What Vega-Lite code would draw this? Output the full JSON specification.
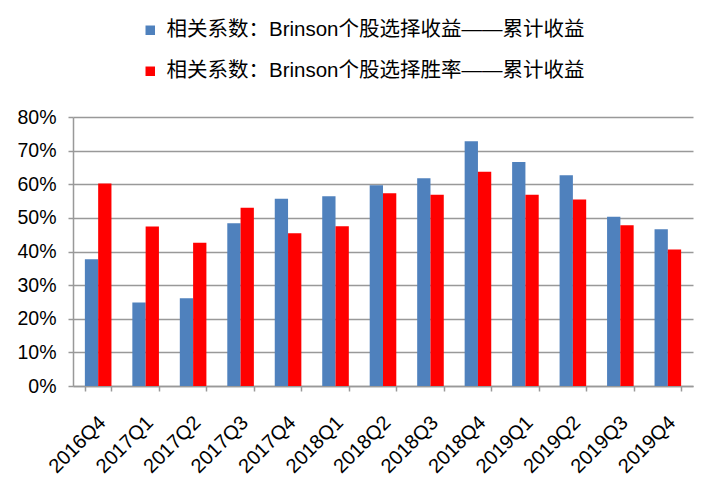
{
  "$schema": "https://vega.github.io/schema/vega-lite/v6.json",
  "width": 620,
  "height": 269,
  "autosize": {"type": "none"},
  "padding": {"left": 73, "top": 117, "right": 15, "bottom": 91},
  "background": "white",
  "data": {
    "values": [
      {"q": "2016Q4", "s": "相关系数：Brinson个股选择收益——累计收益", "v": 0.377},
      {"q": "2016Q4", "s": "相关系数：Brinson个股选择胜率——累计收益", "v": 0.602},
      {"q": "2017Q1", "s": "相关系数：Brinson个股选择收益——累计收益", "v": 0.248},
      {"q": "2017Q1", "s": "相关系数：Brinson个股选择胜率——累计收益", "v": 0.474},
      {"q": "2017Q2", "s": "相关系数：Brinson个股选择收益——累计收益", "v": 0.261},
      {"q": "2017Q2", "s": "相关系数：Brinson个股选择胜率——累计收益", "v": 0.426},
      {"q": "2017Q3", "s": "相关系数：Brinson个股选择收益——累计收益", "v": 0.484},
      {"q": "2017Q3", "s": "相关系数：Brinson个股选择胜率——累计收益", "v": 0.530},
      {"q": "2017Q4", "s": "相关系数：Brinson个股选择收益——累计收益", "v": 0.557},
      {"q": "2017Q4", "s": "相关系数：Brinson个股选择胜率——累计收益", "v": 0.454},
      {"q": "2018Q1", "s": "相关系数：Brinson个股选择收益——累计收益", "v": 0.564},
      {"q": "2018Q1", "s": "相关系数：Brinson个股选择胜率——累计收益", "v": 0.475},
      {"q": "2018Q2", "s": "相关系数：Brinson个股选择收益——累计收益", "v": 0.597},
      {"q": "2018Q2", "s": "相关系数：Brinson个股选择胜率——累计收益", "v": 0.573},
      {"q": "2018Q3", "s": "相关系数：Brinson个股选择收益——累计收益", "v": 0.618},
      {"q": "2018Q3", "s": "相关系数：Brinson个股选择胜率——累计收益", "v": 0.569},
      {"q": "2018Q4", "s": "相关系数：Brinson个股选择收益——累计收益", "v": 0.728},
      {"q": "2018Q4", "s": "相关系数：Brinson个股选择胜率——累计收益", "v": 0.637},
      {"q": "2019Q1", "s": "相关系数：Brinson个股选择收益——累计收益", "v": 0.666},
      {"q": "2019Q1", "s": "相关系数：Brinson个股选择胜率——累计收益", "v": 0.569},
      {"q": "2019Q2", "s": "相关系数：Brinson个股选择收益——累计收益", "v": 0.627},
      {"q": "2019Q2", "s": "相关系数：Brinson个股选择胜率——累计收益", "v": 0.555},
      {"q": "2019Q3", "s": "相关系数：Brinson个股选择收益——累计收益", "v": 0.503},
      {"q": "2019Q3", "s": "相关系数：Brinson个股选择胜率——累计收益", "v": 0.478},
      {"q": "2019Q4", "s": "相关系数：Brinson个股选择收益——累计收益", "v": 0.466},
      {"q": "2019Q4", "s": "相关系数：Brinson个股选择胜率——累计收益", "v": 0.406}
    ]
  },
  "mark": {"type": "bar"},
  "encoding": {
    "x": {
      "field": "q",
      "type": "nominal",
      "sort": null,
      "title": null,
      "scale": {"paddingInner": 0.44, "paddingOuter": 0.25},
      "axis": {
        "labelAngle": -45,
        "labelAlign": "right",
        "labelBaseline": "top",
        "labelFont": "Liberation Sans",
        "labelFontSize": 20,
        "labelColor": "#000000",
        "labelPadding": 21,
        "labelOffset": -3,
        "tickBand": "extent",
        "tickColor": "#999999",
        "tickSize": 5,
        "tickWidth": 1.5,
        "domainColor": "#999999",
        "domainWidth": 1.5,
        "grid": false
      }
    },
    "xOffset": {"field": "s", "type": "nominal", "sort": null},
    "y": {
      "field": "v",
      "type": "quantitative",
      "title": null,
      "scale": {"domain": [0, 0.8], "nice": false},
      "axis": {
        "values": [0, 0.1, 0.2, 0.3, 0.4, 0.5, 0.6, 0.7, 0.8],
        "format": ".0%",
        "labelFont": "Liberation Sans",
        "labelFontSize": 19.5,
        "labelColor": "#000000",
        "labelPadding": 12,
        "tickColor": "#999999",
        "tickSize": 5,
        "tickWidth": 1.5,
        "domainColor": "#999999",
        "domainWidth": 1.5,
        "gridColor": "#999999",
        "gridWidth": 1.5
      }
    },
    "color": {
      "field": "s",
      "type": "nominal",
      "sort": null,
      "scale": {"range": ["#4F81BD", "#FF0000"]},
      "legend": {
        "title": null,
        "orient": "none",
        "legendX": 67,
        "legendY": -97,
        "direction": "vertical",
        "symbolType": "square",
        "symbolSize": 90,
        "symbolStrokeWidth": 0,
        "labelFont": "Liberation Sans, Noto Sans CJK SC",
        "labelFontSize": 20.5,
        "labelColor": "#000000",
        "labelLimit": 600,
        "labelOffset": 6,
        "rowPadding": 20
      }
    }
  },
  "config": {"view": {"stroke": null}}
}
